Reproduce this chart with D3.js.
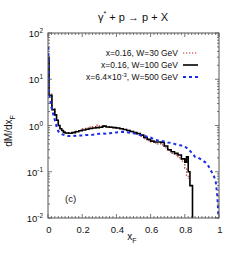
<!DOCTYPE html>
<html><head><meta charset="utf-8">
<script src="https://cdn.jsdelivr.net/npm/d3@7"></script>
<style>
html,body{margin:0;padding:0;background:#fff;}
svg{display:block;font-family:"Liberation Sans",Arial,sans-serif;}
</style></head>
<body><svg id="c" width="240" height="266"></svg>
<script>
// ---- data ----
const xBlack = [0,0.006,0.023,0.04,0.05,0.06,0.07,0.08,0.09,0.10,0.12,0.14,0.16,0.18,0.20,0.22,0.24,0.26,0.28,0.30,0.32,0.34,0.36,0.38,0.40,0.42,0.44,0.46,0.48,0.50,0.52,0.54,0.56,0.58,0.60,0.62,0.64,0.66,0.68,0.70,0.72,0.74,0.76,0.78,0.80,0.81,0.82,0.83,0.845];
const yBlack = [30,4.5,2.2,1.7,1.3,1.0,0.85,0.78,0.72,0.69,0.68,0.70,0.73,0.77,0.80,0.83,0.86,0.88,0.90,0.92,0.97,0.93,0.92,0.90,0.88,0.85,0.82,0.78,0.74,0.70,0.67,0.62,0.55,0.50,0.46,0.44,0.44,0.43,0.36,0.30,0.27,0.25,0.23,0.19,0.16,0.21,0.10,0.05,0.005];
const xRed = [0,0.006,0.023,0.04,0.05,0.06,0.07,0.08,0.09,0.10,0.12,0.14,0.16,0.18,0.20,0.22,0.24,0.26,0.28,0.30,0.32,0.34,0.36,0.38,0.40,0.42,0.44,0.46,0.48,0.50,0.52,0.54,0.56,0.58,0.60,0.62,0.64,0.66,0.68,0.70,0.72,0.74,0.76,0.78,0.80,0.81,0.825];
const yRed = [25,4.8,2.3,1.7,1.3,1.0,0.86,0.77,0.70,0.68,0.69,0.72,0.76,0.80,0.85,0.88,0.92,0.95,1.02,0.96,1.0,0.95,0.93,0.90,0.87,0.86,0.82,0.79,0.74,0.70,0.64,0.58,0.52,0.47,0.44,0.42,0.40,0.38,0.33,0.29,0.25,0.23,0.20,0.17,0.12,0.08,0.07];
const xBlue = [0.002,0.006,0.02,0.03,0.04,0.05,0.06,0.07,0.08,0.10,0.12,0.14,0.16,0.18,0.20,0.22,0.24,0.26,0.28,0.30,0.32,0.34,0.36,0.38,0.40,0.42,0.44,0.46,0.48,0.50,0.52,0.54,0.56,0.58,0.60,0.62,0.64,0.66,0.68,0.70,0.72,0.74,0.76,0.78,0.80,0.82,0.84,0.86,0.88,0.90,0.92,0.94,0.95,0.96,0.97,0.98,0.985,0.99,0.995,0.995];
const yBlue = [50,5,2.5,1.8,1.3,0.95,0.75,0.68,0.65,0.61,0.59,0.59,0.60,0.61,0.61,0.62,0.62,0.63,0.65,0.66,0.67,0.66,0.68,0.69,0.71,0.72,0.73,0.72,0.70,0.68,0.65,0.62,0.60,0.57,0.55,0.50,0.48,0.47,0.45,0.43,0.42,0.40,0.38,0.37,0.35,0.31,0.26,0.21,0.20,0.18,0.16,0.13,0.11,0.095,0.08,0.065,0.045,0.03,0.015,0.008];
const xTickVals = [0,0.2,0.4,0.6,0.8,1];
const xTickLabels = ["0","0.2","0.4","0.6","0.8","1"];
const yTickVals = [100,10,1,0.1,0.01];
const yTickExp = ["2","1","0","-1","-2"];
const legendLabels = ["x=0.16, W=30 GeV","x=0.16, W=100 GeV","x=6.4\u00d710"];

// ---- layout ----
const L=48,R=219,T=33,B=218;
const svg=d3.select("#c");
const x=d3.scaleLinear().domain([0,1]).range([L,R]);
const y=d3.scaleLog().domain([0.01,100]).range([B,T]);

svg.append("defs").append("clipPath").attr("id","clip").append("rect")
  .attr("x",L).attr("y",T).attr("width",R-L).attr("height",B-T);

const g=svg.append("g").attr("clip-path","url(#clip)");
const clampY=v=>y(Math.max(v,0.005));
const stepLine=d3.line().x(d=>x(d[0])).y(d=>clampY(d[1])).curve(d3.curveStepAfter);
const linLine=d3.line().x(d=>x(d[0])).y(d=>clampY(d[1]));

g.append("path").attr("d",stepLine(d3.zip(xRed,yRed)))
  .attr("fill","none").attr("stroke","#b8312f").attr("stroke-width",1.2).attr("stroke-dasharray","1.3,1.7");
g.append("path").attr("d",stepLine(d3.zip(xBlack,yBlack)))
  .attr("fill","none").attr("stroke","#000").attr("stroke-width",1.6);
g.append("path").attr("d",linLine(d3.zip(xBlue,yBlue)))
  .attr("fill","none").attr("stroke","#1a2ee8").attr("stroke-width",2).attr("stroke-dasharray","3,3");

// ---- frame & ticks ----
const axc="#555";
svg.append("rect").attr("x",L).attr("y",T).attr("width",R-L).attr("height",B-T)
  .attr("fill","none").attr("stroke",axc).attr("stroke-width",1);

const tk=svg.append("g").attr("stroke",axc).attr("stroke-width",0.8);
d3.range(0,1.0001,0.02).forEach(v=>{
  const major=xTickVals.some(t=>Math.abs(t-v)<1e-6);
  const len=major?4:2;
  tk.append("line").attr("x1",x(v)).attr("x2",x(v)).attr("y1",B).attr("y2",B-len);
  tk.append("line").attr("x1",x(v)).attr("x2",x(v)).attr("y1",T).attr("y2",T+len);
});
[-2,-1,0,1].forEach(e=>{
  for(let m=1;m<10;m++){
    const v=m*Math.pow(10,e);
    const len=m===1?4:2;
    tk.append("line").attr("x1",L).attr("x2",L+len).attr("y1",y(v)).attr("y2",y(v));
    tk.append("line").attr("x1",R).attr("x2",R-len).attr("y1",y(v)).attr("y2",y(v));
  }
});
tk.append("line").attr("x1",L).attr("x2",L+4).attr("y1",y(100)).attr("y2",y(100));
tk.append("line").attr("x1",R).attr("x2",R-4).attr("y1",y(100)).attr("y2",y(100));

// tick labels
const lab=svg.append("g").attr("fill","#111").attr("font-size",9.5);
xTickVals.forEach((v,i)=>{
  lab.append("text").attr("x",x(v)+1).attr("y",B+15).attr("text-anchor","middle").text(xTickLabels[i]);
});
yTickVals.forEach((v,i)=>{
  const t=lab.append("text").attr("x",L-5).attr("y",y(v)+4).attr("text-anchor","end");
  t.append("tspan").text("10");
  t.append("tspan").attr("dy",-4).attr("font-size",6.5).text(yTickExp[i]);
});

// axis titles
const xl=svg.append("text").attr("x",132).attr("y",240).attr("text-anchor","middle").attr("font-size",10).attr("fill","#111");
xl.append("tspan").text("x");
xl.append("tspan").attr("dy",3).attr("font-size",7).text("F");
const yl=svg.append("text").attr("transform","translate(12,131) rotate(-90)").attr("text-anchor","middle").attr("font-size",10).attr("fill","#111");
yl.append("tspan").text("dM/dx");
yl.append("tspan").attr("dy",3).attr("font-size",7).text("F");

// title
const tt=svg.append("text").attr("x",133).attr("y",21).attr("text-anchor","middle").attr("font-size",11).attr("fill","#111");
tt.append("tspan").text("\u03b3");
tt.append("tspan").attr("dy",-5).attr("font-size",7).text("*");
tt.append("tspan").attr("dy",5).text(" + p \u2192 p + X");

// panel label
svg.append("text").attr("x",65).attr("y",202).attr("font-size",9.5).attr("fill","#111").text("(c)");

// legend
const lg=svg.append("g").attr("font-size",8.5).attr("fill","#111");
const ly=[56,68,80];
const lstyles=[
  {c:"#b8312f",w:1.2,d:"1.3,1.7"},
  {c:"#000",w:1.6,d:null},
  {c:"#1a2ee8",w:2,d:"3,3"}];
ly.forEach((yy,i)=>{
  const t=lg.append("text").attr("x",178).attr("y",yy).attr("text-anchor","end");
  t.append("tspan").text(legendLabels[i]);
  if(i===2){
    t.append("tspan").attr("dy",-3.5).attr("font-size",6).text("-3");
    t.append("tspan").attr("dy",3.5).text(", W=500 GeV");
  }
  const ln=lg.append("line").attr("x1",183).attr("x2",198).attr("y1",yy-3).attr("y2",yy-3)
    .attr("stroke",lstyles[i].c).attr("stroke-width",lstyles[i].w);
  if(lstyles[i].d) ln.attr("stroke-dasharray",lstyles[i].d);
});
</script></body></html>
